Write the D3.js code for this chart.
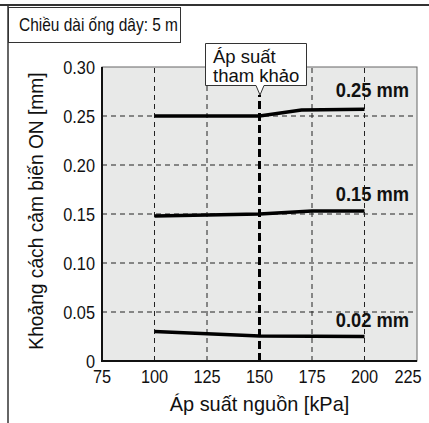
<!DOCTYPE html>
<html>
<head>
<meta charset="utf-8">
<script src="https://cdn.jsdelivr.net/npm/d3@7"></script>
<style>
  body { margin: 0; background: #fff; }
  text { font-family: "Liberation Sans", Arial, sans-serif; fill: #111; }
</style>
</head>
<body>
<svg width="429" height="423"></svg>
<script>
// data
const pressures = [100, 125, 150, 175, 200];
const xTicks = [75, 100, 125, 150, 175, 200, 225];
const yTicks = [0, 0.05, 0.10, 0.15, 0.20, 0.25, 0.30];
const series = [
  { name: '0.25 mm', pts: [[100, 0.250], [150, 0.250], [170, 0.256], [200, 0.257]] },
  { name: '0.15 mm', pts: [[100, 0.148], [150, 0.150], [175, 0.153], [200, 0.153]] },
  { name: '0.02 mm', pts: [[100, 0.030], [150, 0.0255], [200, 0.025]] }
];
const refPressure = 150;
const calloutLines = ['Áp suất', 'tham khảo'];

const svg = d3.select('svg');

// text squeezed sideways a bit, like the condensed font of the original
function txt(g, x, y, s, size, sx, anchor, weight) {
  return g.append('text')
    .attr('transform', 'translate(' + x + ',' + y + ') scale(' + sx + ',1)')
    .attr('font-size', size)
    .attr('text-anchor', anchor || 'start')
    .attr('font-weight', weight || 'normal')
    .text(s);
}

// outer frame
svg.append('line').attr('x1', 0).attr('x2', 429).attr('y1', 5).attr('y2', 5)
  .attr('stroke', '#333').attr('stroke-width', 2);
svg.append('line').attr('x1', 8).attr('x2', 8).attr('y1', 5).attr('y2', 423)
  .attr('stroke', '#333').attr('stroke-width', 1.5);

// condition box
svg.append('rect').attr('x', 8.5).attr('y', 7.5).attr('width', 172).attr('height', 35)
  .attr('fill', '#fff').attr('stroke', '#333');
txt(svg, 19, 31, 'Chiều dài ống dây: 5 m', 18, 0.86);

const x = d3.scaleLinear().domain([75, 225]).range([102, 417]);
const y = d3.scaleLinear().domain([0, 0.30]).range([361, 67]);

// plot background
svg.append('rect').attr('x', x(75)).attr('y', y(0.30))
  .attr('width', x(225) - x(75)).attr('height', y(0) - y(0.30))
  .attr('fill', '#e8e9e8').attr('stroke', '#666').attr('stroke-width', 1);

// gridlines
svg.append('g').selectAll('line').data(yTicks.filter(d => d > 0 && d < 0.30)).join('line')
  .attr('x1', x(75)).attr('x2', x(225))
  .attr('y1', d => y(d)).attr('y2', d => y(d))
  .attr('stroke', '#222').attr('stroke-width', 1).attr('stroke-dasharray', '5,4');
svg.append('g').selectAll('line').data(pressures.filter(d => d !== refPressure)).join('line')
  .attr('x1', d => x(d)).attr('x2', d => x(d))
  .attr('y1', y(0)).attr('y2', y(0.30))
  .attr('stroke', '#222').attr('stroke-width', 1).attr('stroke-dasharray', '5,4');

// reference pressure line
svg.append('line').attr('x1', x(refPressure)).attr('x2', x(refPressure))
  .attr('y1', y(0)).attr('y2', 95)
  .attr('stroke', '#000').attr('stroke-width', 3).attr('stroke-dasharray', '8,4');

// axes (left and bottom)
svg.append('line').attr('x1', x(75)).attr('x2', x(75)).attr('y1', y(0.30)).attr('y2', y(0) + 1)
  .attr('stroke', '#111').attr('stroke-width', 2);
svg.append('line').attr('x1', x(75) - 1).attr('x2', x(225)).attr('y1', y(0)).attr('y2', y(0))
  .attr('stroke', '#111').attr('stroke-width', 2);

// tick labels (last one pulled in so it stays on the page)
const gx = svg.append('g');
xTicks.forEach(d => txt(gx, Math.min(x(d), 408), 383, d, 19, 0.86, 'middle'));
const gy = svg.append('g');
yTicks.forEach(d => txt(gy, 95, y(d) + 7, d === 0 ? '0' : d.toFixed(2), 19, 0.86, 'end'));

// series lines
const line = d3.line().x(d => x(d[0])).y(d => y(d[1]));
svg.append('g').selectAll('path').data(series).join('path')
  .attr('d', d => line(d.pts))
  .attr('fill', 'none').attr('stroke', '#000').attr('stroke-width', 3.5);

// series labels
const labelY = { '0.25 mm': 97, '0.15 mm': 201, '0.02 mm': 327 };
const gl = svg.append('g');
series.forEach(d => txt(gl, 409, labelY[d.name], d.name, 19.5, 0.94, 'end', 'bold'));

// callout
svg.append('path')
  .attr('d', 'M205.5,43.5 H306.5 V85.5 H264 L260,95 L256,85.5 H205.5 Z')
  .attr('fill', '#fff').attr('stroke', '#333');
svg.append('text').attr('x', 213).attr('y', 63).attr('font-size', 18.5)
  .selectAll('tspan').data(calloutLines).join('tspan')
  .attr('x', 213).attr('dy', (d, i) => i === 0 ? 0 : 18.5)
  .text(d => d);

// axis titles
txt(svg, x(150), 411, 'Áp suất nguồn [kPa]', 21, 0.95, 'middle');
svg.append('text').attr('transform', 'translate(43,211) rotate(-90) scale(0.96,1)')
  .attr('text-anchor', 'middle').attr('font-size', 20)
  .text('Khoảng cách cảm biến ON [mm]');
</script>
</body>
</html>
